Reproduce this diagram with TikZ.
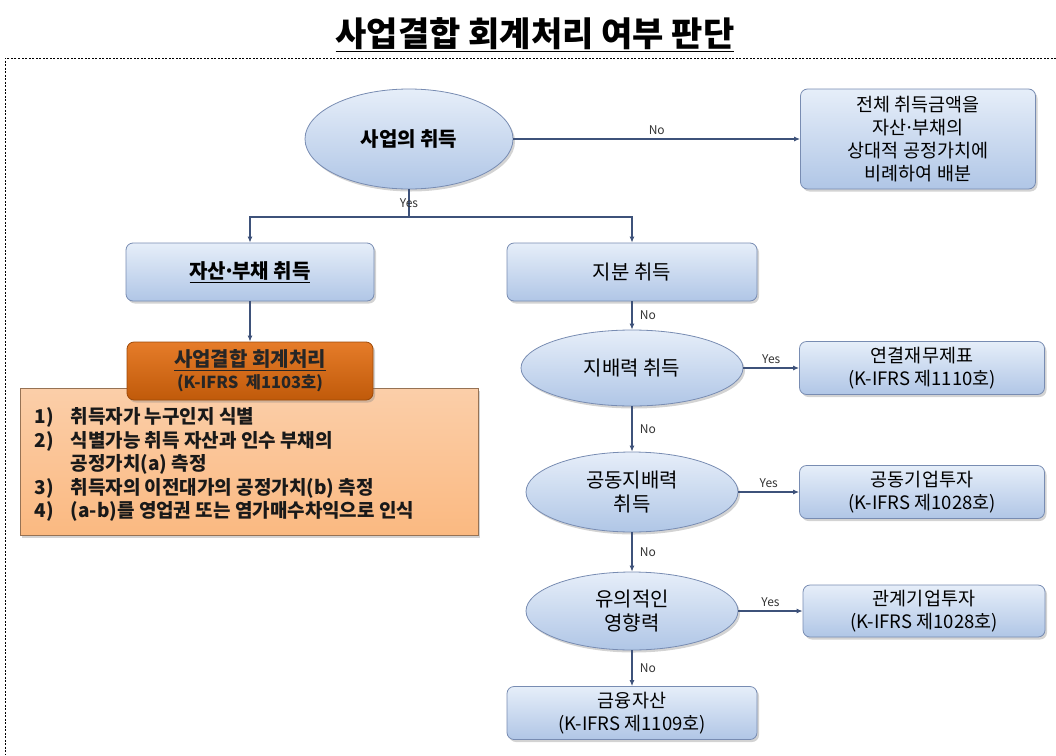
\documentclass[tikz,border=0pt]{standalone}
\usepackage{fontspec}
\setmainfont{Noto Sans CJK KR}
\usetikzlibrary{shapes.geometric,shadows,arrows.meta}
\definecolor{bluetop}{RGB}{230,238,249}
\definecolor{bluebot}{RGB}{176,198,230}
\definecolor{blueedge}{RGB}{120,140,178}
\definecolor{orhead}{RGB}{226,106,12}
\definecolor{orbody}{RGB}{250,190,140}
\definecolor{flowc}{RGB}{62,82,122}
\newcommand\mdot{\makebox[6pt][c]{·}}
\tikzset{px/.style={x=1pt,y=-1pt},
  soft/.style={drop shadow={opacity=0.35,shadow xshift=2pt,shadow yshift=-2.5pt}},
  bluebox/.style={draw=blueedge,line width=0.8pt,rounded corners=7pt,top color=bluetop,bottom color=bluebot,soft,
    align=center,inner sep=0pt,font=\fontsize{18.5}{23}\selectfont},
  blueoval/.style={ellipse,draw=blueedge,line width=0.8pt,top color=bluetop,bottom color=bluebot,soft,
    align=center,inner sep=0pt,font=\fontsize{20}{24}\selectfont},
  flow/.style={draw=flowc,line width=1.1pt,->,>={Latex[length=6pt,width=5pt]}},
  lab/.style={font=\fontsize{12}{14}\selectfont,text=black!80}}

\begin{document}
\begin{tikzpicture}[px]
  \useasboundingbox (0,0) rectangle (1056,755);
  \node[font=\fontsize{34}{40}\selectfont\bfseries] (title) at (535,35) {\underline{사업결합 회계처리 여부 판단}};
  \draw[line width=0.8pt,dash pattern=on 2pt off 1.5pt] (1056,58) -- (5,58) -- (5,755);

  \node[blueoval,minimum width=208pt,minimum height=100pt,font=\fontsize{20}{24}\selectfont\bfseries] (biz) at (409,139) {사업의 취득};
  \node[bluebox,minimum width=235pt,minimum height=100pt] (alloc) at (918,139) {전체 취득금액을\\자산\mdot 부채의\\상대적 공정가치에\\비례하여 배분};
  \node[bluebox,minimum width=248pt,minimum height=58pt,font=\fontsize{20}{24}\selectfont\bfseries] (asset) at (250,272) {\underline{자산\mdot 부채 취득}};
  \node[bluebox,minimum width=250pt,minimum height=58pt,font=\fontsize{20}{24}\selectfont] (equity) at (632,272) {지분 취득};

  \node[draw=orbody!60!black,line width=0.6pt,top color=orbody!75!white,bottom color=orbody!92!orange,soft,
    minimum width=458pt,minimum height=147pt,inner sep=0pt] (steps) at (249,462) {};
  \node[draw=orhead!70!black,line width=0.8pt,rounded corners=7pt,top color=orhead!88!white,bottom color=orhead!85!black,soft,
    minimum width=246pt,minimum height=58pt,inner sep=0pt,align=center,text=black!85] (head) at (250,371)
    {\fontsize{20}{24}\selectfont\bfseries\underline{사업결합 회계처리}\\[3pt]\fontsize{16.5}{20}\selectfont\bfseries(K-IFRS\ \ 제1103호)};
  \node[anchor=west,font=\fontsize{19}{23.5}\selectfont\bfseries,text=black!90] (list) at (31,466)
    {\begin{tabular}{@{}l@{\hspace{17pt}}l@{}}
      1) & 취득자가 누구인지 식별\\
      2) & 식별가능 취득 자산과 인수 부채의\\
         & 공정가치(a) 측정\\
      3) & 취득자의 이전대가의 공정가치(b) 측정\\
      4) & (a-b)를 영업권 또는 염가매수차익으로 인식
    \end{tabular}};

  \node[blueoval,minimum width=222pt,minimum height=76pt] (ctrl) at (632,368) {지배력 취득};
  \node[bluebox,minimum width=245pt,minimum height=53pt] (cons) at (922,368) {연결재무제표\\(K-IFRS 제1110호)};
  \node[blueoval,minimum width=212pt,minimum height=80pt] (joint) at (632,492) {공동지배력\\취득};
  \node[bluebox,minimum width=245pt,minimum height=53pt] (jv) at (922,492) {공동기업투자\\(K-IFRS 제1028호)};
  \node[blueoval,minimum width=212pt,minimum height=78pt] (sig) at (632,611) {유의적인\\영향력};
  \node[bluebox,minimum width=242pt,minimum height=52pt] (assoc) at (924,611) {관계기업투자\\(K-IFRS 제1028호)};
  \node[bluebox,minimum width=250pt,minimum height=53pt] (fin) at (632,713) {금융자산\\(K-IFRS 제1109호)};

  \coordinate (split) at (409,217);
  \draw[flow,-] (biz.south) -- node[lab]{Yes} (split);
  \draw[flow] (split) -| (asset.north);
  \draw[flow] (split) -| (equity.north);
  \draw[flow] (biz.east) -- node[lab,above]{No} (alloc.west);
  \draw[flow] (asset.south) -- (head.north);
  \foreach \a/\b in {equity/ctrl,ctrl/joint,joint/sig,sig/fin}
    \draw[flow] (\a.south) -- node[lab,right,xshift=4pt]{No} (\b.north);
  \foreach \a/\b in {ctrl/cons,joint/jv,sig/assoc}
    \draw[flow] (\a.east) -- node[lab,above]{Yes} (\b.west);
\end{tikzpicture}
\end{document}
